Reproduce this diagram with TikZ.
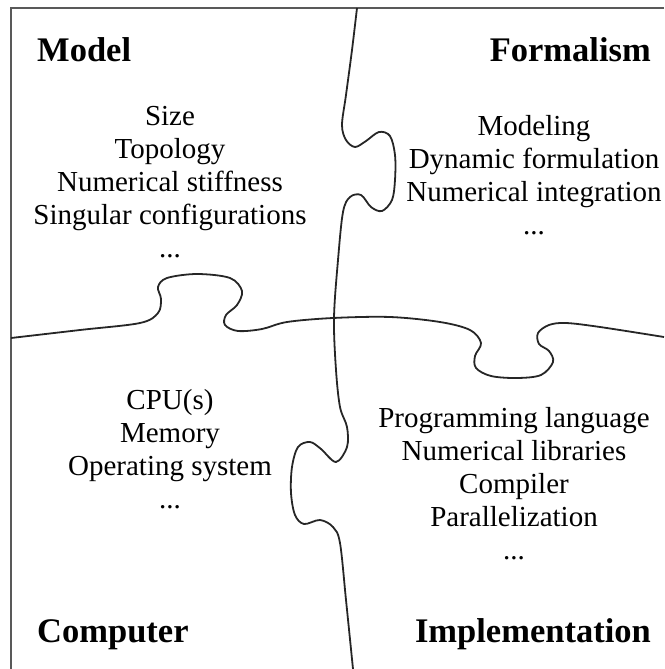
\documentclass[tikz,border=0pt]{standalone}
\usepackage{fontspec}
\setmainfont{Liberation Serif}
\begin{document}
\begin{tikzpicture}[x=1pt,y=-1pt,
  frame/.style={draw=black!65,line width=2pt},
  cut/.style={draw=black!85,line width=1.8pt,line join=round},
  head/.style={font=\fontsize{34.5}{40}\selectfont\bfseries,inner sep=0pt},
  body/.style={font=\fontsize{29}{33}\selectfont,align=center,inner sep=0pt}]
\useasboundingbox (0,0) rectangle (664,669);
% frame
\draw[frame] (664,8) -- (11,8) -- (11,669);
% vertical cut
\draw[cut] plot[smooth,tension=0.55] coordinates {
 (357,8) (352,50) (346,95) (342,125) (346,140) (355,147) (366,141) (379,132)
 (390,136) (395,155) (395,180) (392,200) (382,211) (371,207) (361,195)
 (350,197) (343,212) (338,260) (334,318) (336,370) (340,407) (347,427)
 (347,447) (336,462) (321,449) (310,442) (298,447) (292,467) (291,493)
 (295,515) (304,524) (320,520) (333,527) (340,543) (346,600) (353,669)};
% horizontal cut
\draw[cut] plot[smooth,tension=0.55] coordinates {
 (11,338) (80,330) (140,323) (158,313) (161,299) (158,287) (167,278)
 (197,274) (230,278) (242,291) (237,305) (226,315) (225,325) (238,331)
 (262,329) (287,322) (333,318) (390,317) (440,322) (470,330) (481,343)
 (475,356) (476,368) (491,376) (517,378) (541,375) (553,362) (549,351)
 (539,344) (538,333) (549,325) (566,323) (600,327) (664,337)};
% headings
\node[head,anchor=base west] (hmodel) at (37,62) {Model};
\node[head,anchor=base east] (hform) at (651,62) {Formalism};
\node[head,anchor=base west] (hcomp) at (37,642) {Computer};
\node[head,anchor=base east] (himpl) at (651,642) {Implementation};
% bodies
\node[body] (bmodel) at (170,182) {Size\\Topology\\Numerical stiffness\\Singular configurations\\...};
\node[body] (bform) at (534,175) {Modeling\\Dynamic formulation\\Numerical integration\\...};
\node[body] (bcomp) at (170,449) {CPU(s)\\Memory\\Operating system\\...};
\node[body] (bimpl) at (514,484) {Programming language\\Numerical libraries\\Compiler\\Parallelization\\...};
\end{tikzpicture}
\end{document}
